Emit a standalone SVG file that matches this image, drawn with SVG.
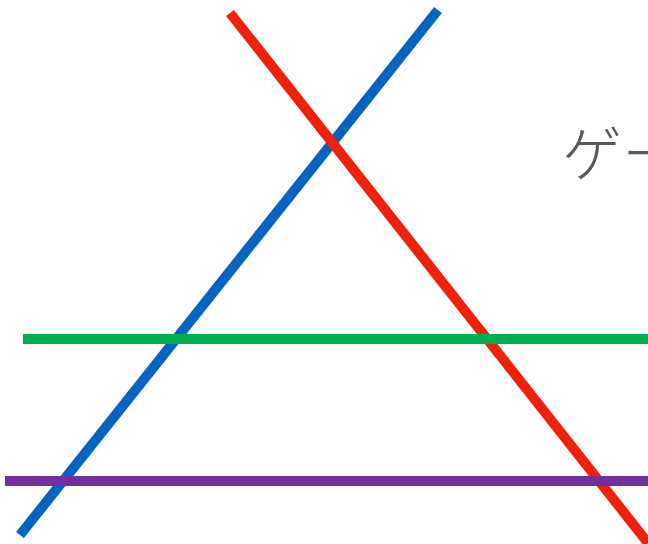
<svg xmlns="http://www.w3.org/2000/svg" width="648" height="544" viewBox="0 0 648 544">
<style>
.ln{stroke-width:10;fill:none;stroke-linecap:butt}
.t{font-family:"Noto Sans CJK JP","Noto Sans",sans-serif;font-weight:300;font-size:60px;fill:#595959}
</style>
<rect width="648" height="544" fill="#ffffff"/>
<text class="t" x="562" y="176">ゲー</text>
<g id="lines">
<line class="ln" x1="20" y1="535" x2="438" y2="10" stroke="#0563C1"/>
<line class="ln" x1="230" y1="13" x2="648" y2="543" stroke="#EE220C"/>
<line class="ln" x1="23" y1="339" x2="648" y2="339" stroke="#00B050"/>
<line class="ln" x1="5" y1="481" x2="648" y2="481" stroke="#7030A0"/>
</g>
</svg>
